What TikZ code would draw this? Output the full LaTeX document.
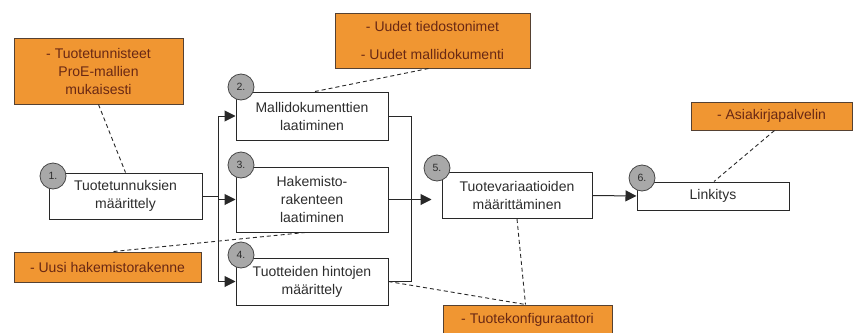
\documentclass[tikz,border=0pt]{standalone}
\usepackage{fontspec}
\setmainfont{Liberation Sans}
\usetikzlibrary{arrows.meta,calc}

\definecolor{boxline}{RGB}{40,40,40}
\definecolor{boxtext}{RGB}{45,45,45}
\definecolor{notefill}{RGB}{240,150,50}
\definecolor{noteline}{RGB}{85,65,50}
\definecolor{notetext}{RGB}{105,40,20}
\definecolor{numfill}{RGB}{168,168,168}
\definecolor{numline}{RGB}{70,70,70}

\tikzset{
  stepbox/.style={draw=boxline, fill=white, line width=1pt, text=boxtext,
    font=\fontsize{14}{18}\selectfont, align=center, inner sep=0pt},
  notebox/.style={draw=noteline, fill=notefill, line width=1pt, text=notetext,
    font=\fontsize{14}{18}\selectfont, align=center, inner sep=0pt},
  numdot/.style={circle, draw=numline, fill=numfill, line width=0.8pt,
    minimum size=26pt, inner sep=0pt, text=boxtext,
    font=\fontsize{10.5}{12}\selectfont},
  flow/.style={draw=boxline, line width=1pt},
  flowarrow/.style={flow, -{Triangle[length=11pt,width=11pt]}},
  link/.style={draw=boxline, line width=0.9pt, dash pattern=on 4pt off 3pt}
}

\begin{document}
\begin{tikzpicture}[x=1pt,y=-1pt]
\clip (0,0) rectangle (853,332);
\fill[white] (0,0) rectangle (853,332);

% process steps
\node[stepbox, minimum width=153pt, minimum height=46pt] (b1) at (125.5,196)
  {Tuotetunnuksien\\määrittely};
\node[stepbox, minimum width=152pt, minimum height=48pt] (b2) at (312,116)
  {Mallidokumenttien\\laatiminen};
\node[stepbox, minimum width=152pt, minimum height=65pt] (b3) at (312,199.5)
  {Hakemisto-\\rakenteen\\laatiminen};
\node[stepbox, minimum width=152pt, minimum height=47pt] (b4) at (312,281.5)
  {Tuotteiden hintojen\\määrittely};
\node[stepbox, minimum width=150pt, minimum height=46pt] (b5) at (517,195.5)
  {Tuotevariaatioiden\\määrittäminen};
\node[stepbox, minimum width=152pt, minimum height=28pt] (b6) at (713,196)
  {Linkitys};

% notes
\node[notebox, minimum width=169pt, minimum height=66pt] (o1) at (98.5,71)
  {- Tuotetunnisteet\\ProE-mallien\\mukaisesti};
\node[notebox, minimum width=195pt, minimum height=55pt] (o2) at (432.5,40.5)
  {- Uudet tiedostonimet\\[10pt]- Uudet mallidokumenti};
\node[notebox, minimum width=187pt, minimum height=30pt] (o3) at (107.5,267)
  {- Uusi hakemistorakenne};
\node[notebox, minimum width=169pt, minimum height=30pt] (o4) at (527.5,320)
  {- Tuotekonfiguraattori};
\node[notebox, minimum width=161pt, minimum height=28pt] (o6) at (771.5,116)
  {- Asiakirjapalvelin};

% junctions
\coordinate (j1) at (218,196);
\coordinate (j2) at (411,199.5);

% flow lines
\draw[flow] (b1.east) -- (j1);
\draw[flow] (j1 |- b2.west) -- (j1 |- b4.west);
\draw[flowarrow] (j1 |- b2.west) -- (b2.west);
\draw[flowarrow] (j1 |- b3.west) -- (b3.west);
\draw[flowarrow] (j1 |- b4.west) -- (b4.west);
\draw[flow] (b2.east) -- (j2 |- b2.east) -- (j2 |- b4.east) -- (b4.east);
\draw[flow] (b3.east) -- (j2);
\draw[flowarrow, shorten >=10pt] (j2) -- (b5.west |- j2);
\draw[flowarrow] (b5.east) -- (b6.west);

% note links
\draw[link] (o1.south) -- (b1.north);
\draw[link] ($(o2.south)+(-4,0)$) -- ($(b2.north)+(3,0)$);
\draw[link] ($(o3.north)+(6,0)$) -- ($(b3.south)+(-7,0)$);
\draw[link] (b4.east) -- ($(o4.north)+(-2,0)$);
\draw[link] (b5.south) -- ($(o4.north)+(-2,0)$);
\draw[link] ($(o6.south)+(3,0)$) -- ($(b6.north)+(1,0)$);

% step numbers
\node[numdot] (n1) at (53,176) {1.};
\node[numdot] (n2) at (241,87) {2.};
\node[numdot] (n3) at (241,165) {3.};
\node[numdot] (n4) at (241,255) {4.};
\node[numdot] (n5) at (437,168) {5.};
\node[numdot] (n6) at (642,178) {6.};
\end{tikzpicture}
\end{document}
